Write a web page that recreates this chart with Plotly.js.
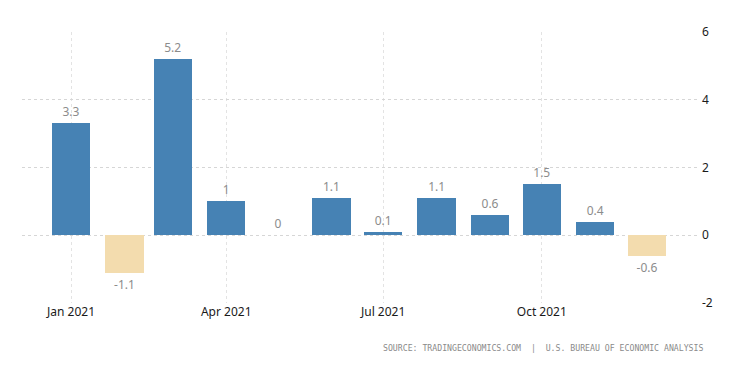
<!DOCTYPE html>
<html>
<head>
<meta charset="utf-8">
<script src="https://cdn.plot.ly/plotly-3.0.1.min.js"></script>
<style>html,body{margin:0;padding:0;background:#fff;}#chart{width:750px;height:375px;}</style>
</head>
<body>
<div id="chart"></div>
<script>
const months = ["2021-01-01","2021-02-01","2021-03-01","2021-04-01","2021-05-01","2021-06-01","2021-07-01","2021-08-01","2021-09-01","2021-10-01","2021-11-01","2021-12-01"];
const values = [3.3, -1.1, 5.2, 1, 0, 1.1, 0.1, 1.1, 0.6, 1.5, 0.4, -0.6];
const labels = ["3.3","-1.1","5.2","1","0","1.1","0.1","1.1","0.6","1.5","0.4","-0.6"];
const tickDates = ["2021-01-01","2021-04-01","2021-07-01","2021-10-01"];
const tickLabels = ["Jan 2021","Apr 2021","Jul 2021","Oct 2021"];
const yTicks = [-2, 0, 2, 4, 6];

const colors = values.map(v => v < 0 ? "#F3DCAE" : "#4682B4");

const trace = {
  type: "bar",
  x: months,
  y: values,
  width: 22.3 * 86400000,
  marker: {color: colors},
  text: labels,
  textposition: "outside",
  cliponaxis: false,
  textfont: {family: "Noto Sans, sans-serif", size: 12, color: "#8c8c8c"},
  hoverinfo: "skip"
};

const layout = {
  width: 750, height: 375,
  margin: {l: 22, r: 53, t: 32, b: 72},
  paper_bgcolor: "#fff", plot_bgcolor: "#fff",
  showlegend: false,
  bargap: 0,
  xaxis: {
    type: "date",
    range: ["2020-12-03 14:00", "2021-12-30"],
    tickvals: tickDates,
    ticktext: tickLabels,
    showgrid: true,
    gridcolor: "#e3e3e3",
    griddash: "dot",
    gridwidth: 1,
    zeroline: false,
    showline: false,
    ticks: "",
    tickfont: {family: "Noto Sans, sans-serif", size: 12, color: "#1a1a1a"}
  },
  yaxis: {
    side: "right",
    range: [-2, 6],
    tickvals: yTicks,
    ticktext: yTicks.map(String),
    showgrid: true,
    gridcolor: "#d6d6d6",
    griddash: "dot",
    gridwidth: 1,
    zeroline: false,
    showline: false,
    ticks: "",
    ticklabelstandoff: 4,
    tickfont: {family: "Noto Sans, sans-serif", size: 12, color: "#1a1a1a"}
  },
  annotations: [{
    text: "SOURCE: TRADINGECONOMICS.COM  |  U.S. BUREAU OF ECONOMIC ANALYSIS",
    xref: "paper", yref: "paper",
    x: 1.012, y: -0.166,
    xanchor: "right", yanchor: "middle",
    showarrow: false,
    font: {family: "DejaVu Sans Mono, monospace", size: 8.2, color: "#8a8a8a"}
  }]
};

Plotly.newPlot("chart", [trace], layout, {displayModeBar: false, staticPlot: true});
</script>
</body>
</html>
